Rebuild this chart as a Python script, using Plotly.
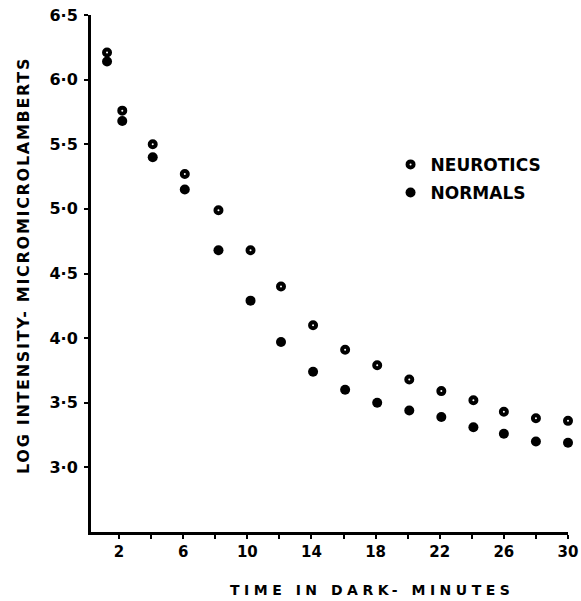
import plotly.graph_objects as go

time_min = [1.25, 2.2, 4.1, 6.1, 8.2, 10.2, 12.1, 14.1, 16.1, 18.1, 20.1, 22.1, 24.1, 26.0, 28.0, 30.0]
neurotics = [6.21, 5.76, 5.50, 5.27, 4.99, 4.68, 4.40, 4.10, 3.91, 3.79, 3.68, 3.59, 3.52, 3.43, 3.38, 3.36]
normals = [6.14, 5.68, 5.40, 5.15, 4.68, 4.29, 3.97, 3.74, 3.60, 3.50, 3.44, 3.39, 3.31, 3.26, 3.20, 3.19]

x_tickvals = list(range(2, 31, 2))
x_ticktext = [str(v) if (v - 2) % 4 == 0 else "" for v in x_tickvals]
y_tickvals = [3.0, 3.5, 4.0, 4.5, 5.0, 5.5, 6.0, 6.5]
y_ticktext = ["3·0", "3·5", "4·0", "4·5", "5·0", "5·5", "6·0", "6·5"]

x_title = "TIME IN DARK- MINUTES"
y_title = "LOG INTENSITY- MICROMICROLAMBERTS"

FONT = "DejaVu Sans"

fig = go.Figure()
fig.add_trace(go.Scatter(
    x=time_min, y=neurotics, mode="markers", name="NEUROTICS",
    legendgroup="a",
    marker=dict(symbol="circle-open", size=6, color="black", line=dict(width=4, color="black")),
    cliponaxis=False,
))
fig.add_trace(go.Scatter(
    x=time_min, y=normals, mode="markers", name="NORMALS",
    legendgroup="b",
    marker=dict(symbol="circle", size=10, color="black", line=dict(width=0)),
    cliponaxis=False,
))

# plot area on page: x 91..568 px, y 15..532 px
fig.add_annotation(
    text=f'<span style="letter-spacing:4.5px">{x_title}</span>',
    xref="paper", yref="paper", x=(372 - 91) / 477, y=-(590 - 532) / 517,
    xanchor="center", yanchor="middle", showarrow=False,
    font=dict(family=FONT, size=14, color="black", weight="bold"),
)
fig.add_annotation(
    text=f'<span style="letter-spacing:1.7px">{y_title}</span>',
    xref="paper", yref="paper", x=-(91 - 23) / 477, y=(532 - 266) / 517,
    xanchor="center", yanchor="middle", showarrow=False, textangle=-90,
    font=dict(family=FONT, size=16, color="black", weight="bold"),
)

fig.update_layout(
    width=581, height=601,
    margin=dict(l=91, r=13, t=15, b=69),
    paper_bgcolor="white", plot_bgcolor="white",
    font=dict(family=FONT, color="black"),
    showlegend=True,
    legend=dict(
        x=0.628, y=0.745, xanchor="left", yanchor="top",
        bgcolor="rgba(0,0,0,0)", borderwidth=0,
        font=dict(family=FONT, size=17, color="black", weight="bold"),
        tracegroupgap=3,
    ),
    xaxis=dict(
        range=[0.25, 30], showgrid=False, zeroline=False, automargin=False,
        showline=True, linecolor="black", linewidth=3,
        ticks="outside", ticklen=4, tickwidth=2, tickcolor="black",
        tickvals=x_tickvals, ticktext=x_ticktext,
        tickfont=dict(family=FONT, size=15, color="black", weight="bold"),
        ticklabelstandoff=0, ticklabeloverflow="allow",
    ),
    yaxis=dict(
        range=[2.5, 6.5], showgrid=False, zeroline=False, automargin=False,
        showline=True, linecolor="black", linewidth=3,
        ticks="outside", ticklen=4, tickwidth=2, tickcolor="black",
        tickvals=y_tickvals, ticktext=y_ticktext,
        tickfont=dict(family=FONT, size=16, color="black", weight="bold"),
        ticklabelstandoff=3, ticklabeloverflow="allow",
    ),
)

fig.write_html(
    "out.html",
    config={"displayModeBar": False},
    post_script="document.body.style.margin='0';document.body.style.overflow='hidden';",
)
